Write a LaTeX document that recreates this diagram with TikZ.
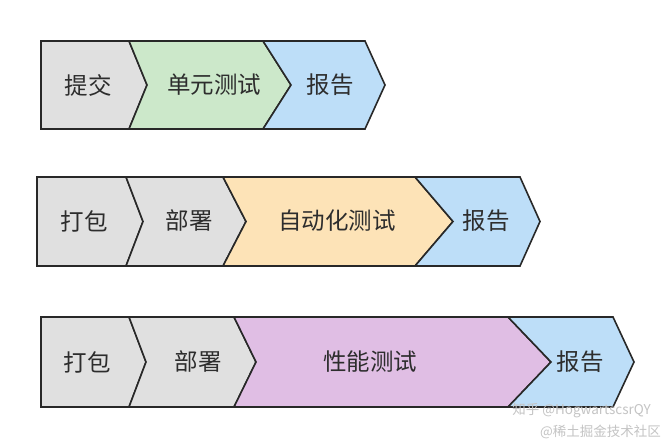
\documentclass[tikz,border=0pt]{standalone}
\usepackage{fontspec}
\newfontfamily\cjk{Noto Sans CJK SC}
\usepackage{tikz}
\usetikzlibrary{positioning}
\usepackage{xcolor}
\definecolor{stagegray}{RGB}{224,224,224}
\definecolor{stagegreen}{RGB}{204,232,202}
\definecolor{stageblue}{RGB}{189,222,248}
\definecolor{stageorange}{RGB}{253,227,183}
\definecolor{stagepurple}{RGB}{224,190,228}
\definecolor{stageline}{RGB}{40,40,40}
\definecolor{stagetext}{RGB}{45,45,45}
\definecolor{markgray}{RGB}{196,196,196}

% one chevron: left top x, left tip x, right top x, right tip x, top y, bottom y, fill
\newcommand{\stage}[7]{%
  \filldraw[stageedge,fill=#7] (#1,#5) -- (#3,#5) -- (#4,{(#5+#6)/2}) -- (#3,#6)
    -- (#1,#6) -- (#2,{(#5+#6)/2}) -- cycle;}

\begin{document}
\begin{tikzpicture}[x=1pt,y=-1pt,
  stageedge/.style={draw=stageline,line width=1.6pt,line join=miter},
  stagelabel/.style={font=\cjk\fontsize{23.5}{27}\selectfont,text=stagetext,inner sep=0pt},
  marklabel/.style={font=\cjk\fontsize{13.5}{15}\selectfont,text=markgray,inner sep=0pt,anchor=east}]
  \useasboundingbox (0,0) rectangle (666,444);
  \fill[white] (0,0) rectangle (666,444);

  % row 1: commit, unit test, report
  \stage{41}{41}{129}{147}{41}{129}{stagegray}
  \stage{129}{147}{263}{291}{41}{129}{stagegreen}
  \stage{263}{291}{365}{385}{41}{129}{stageblue}
  \node[stagelabel] (commit) at (88,85) {提交};
  \node[stagelabel] (unittest) at (214,85) {单元测试};
  \node[stagelabel] (reportA) at (330,85) {报告};

  % row 2: package, deploy, automated test, report
  \stage{37}{37}{126}{143}{177}{266}{stagegray}
  \stage{126}{143}{223}{246}{177}{266}{stagegray}
  \stage{223}{246}{415}{453}{177}{266}{stageorange}
  \stage{415}{453}{520}{540}{177}{266}{stageblue}
  \node[stagelabel] (packB) at (84,221) {打包};
  \node[stagelabel] (deployB) at (189,221) {部署};
  \node[stagelabel] (autotest) at (337,221) {自动化测试};
  \node[stagelabel] (reportB) at (486,221) {报告};

  % row 3: package, deploy, performance test, report
  \stage{41}{41}{129}{146}{317}{407}{stagegray}
  \stage{129}{146}{234}{256}{317}{407}{stagegray}
  \stage{234}{256}{508}{551}{317}{407}{stagepurple}
  \stage{508}{551}{613}{634}{317}{407}{stageblue}
  \node[stagelabel] (packC) at (87,362) {打包};
  \node[stagelabel] (deployC) at (198,362) {部署};
  \node[stagelabel] (perftest) at (370,362) {性能测试};
  \node[stagelabel] (reportC) at (580,362) {报告};

  % watermarks
  \node[marklabel] (markA) at (651,411) {知乎 @HogwartscsrQY};
  \node[marklabel] (markB) at (661,432) {@稀土掘金技术社区};
\end{tikzpicture}
\end{document}
